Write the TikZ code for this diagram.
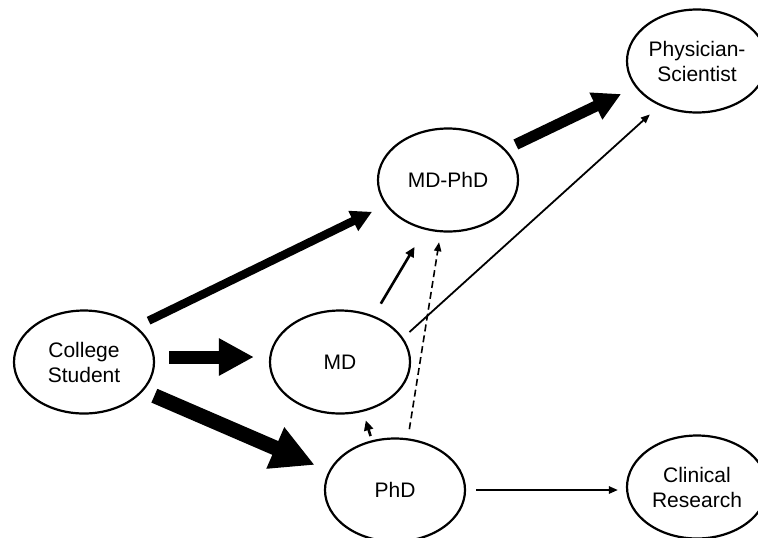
\documentclass[tikz,border=0pt]{standalone}
\usepackage{fontspec}
\setmainfont{Liberation Sans}
\usetikzlibrary{arrows.meta,shapes.geometric}

\begin{document}
\begin{tikzpicture}
      [
        x = 0.5pt, y = -0.5pt,
        stage/.style = {draw, ellipse, line width = 1.1pt, minimum width = 70pt, minimum height = 51.5pt,
            inner sep = 0pt, inner xsep = -2pt, align = center, font = \fontsize{10.5}{12.5}\selectfont},
        fine link/.style = {-{Triangle[length = 4.5pt, width = 3.6pt]}, line width = 0.9pt},
        firm link/.style = {-{Triangle[length = 5pt, width = 4.5pt]}, line width = 1.3pt},
      ]

      \useasboundingbox (0,0) rectangle (758,537);

      \node[stage] (cs) at (84,362) {College\\Student};
      \node[stage] (md) at (340,362) {MD};
      \node[stage] (mdphd) at (448,180) {MD-PhD};
      \node[stage] (phys) at (697,61) {Physician-\\Scientist};
      \node[stage] (phd) at (395,490) {PhD};
      \node[stage] (clin) at (697,487) {Clinical\\Research};

      % heavy flows
      \draw[line width = 4.2pt, -{Triangle[length = 10.5pt, width = 10.5pt]},
        shorten <= 6.7pt, shorten >= 7.5pt] (cs.34) -- (mdphd.202);
      \draw[line width = 6.5pt, -{Triangle[length = 17.5pt, width = 17.5pt]},
        shorten <= 7pt, shorten >= 7.5pt] ([yshift = 2.5pt]cs.east) -- ([yshift = 2.5pt]md.west);
      \draw[line width = 7.5pt, -{Triangle[length = 21.5pt, width = 21pt]},
        shorten <= 6pt, shorten >= 7.6pt] (cs.-26) -- (phd.164);
      \draw[line width = 5.5pt, -{Triangle[length = 14pt, width = 14pt]},
        shorten <= 5.6pt, shorten >= 7.9pt] (mdphd.28) -- (phys.203);

      % light flows
      \draw[firm link, shorten <= 7pt, shorten >= 10pt] (md.54) -- (mdphd.245);
      \draw[fine link, shorten <= 4.3pt, shorten >= 6.5pt] (md.21) -- (phys.230);
      \draw[fine link, line width = 0.8pt, dash pattern = on 3.5pt off 2pt,
        shorten <= 4.6pt, shorten >= 5pt] (phd.76) -- (mdphd.262);
      \draw[firm link, shorten <= 2.2pt, shorten >= 4.5pt] (phd.115) -- (md.295);
      \draw[fine link, line width = 1pt, shorten <= 5pt, shorten >= 4pt] (phd.east) -- (phd.east -| clin.west);

    \end{tikzpicture}
\end{document}
